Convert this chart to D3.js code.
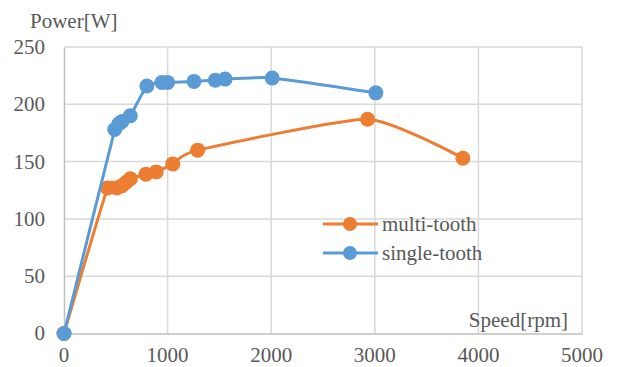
<!DOCTYPE html>
<html>
<head>
<meta charset="utf-8">
<script src="https://cdn.jsdelivr.net/npm/d3@7/dist/d3.min.js"></script>
<style>
  html, body { margin: 0; padding: 0; background: #fff; }
  svg { display: block; }
  text { font-family: "Liberation Serif", "Times New Roman", serif; fill: #595959; font-size: 21px; }
</style>
</head>
<body>
<svg id="chart" width="617" height="367"></svg>
<script>
// ---- data ----
const multiSpeed = [0, 420, 510, 560, 600, 640, 790, 890, 1050, 1290, 2930, 3850];
const multiPower = [0, 127, 127, 129, 132, 135, 139, 141, 148, 160, 187, 153];
const singleSpeed = [0, 490, 530, 560, 640, 800, 945, 1000, 1255, 1460, 1555, 2010, 3010];
const singlePower = [0, 178, 183, 185, 190, 216, 219, 219, 220, 221, 222, 223, 210];
const xTicks = [0, 1000, 2000, 3000, 4000, 5000];
const yTicks = [0, 50, 100, 150, 200, 250];
const seriesNames = ["multi-tooth", "single-tooth"];
const seriesColors = ["#ed7d31", "#5b9bd5"];

const svg = d3.select("#chart");
const x = d3.scaleLinear().domain([0, 5000]).range([64, 582]);
const y = d3.scaleLinear().domain([0, 250]).range([333.5, 47]);

// gridlines
const grid = svg.append("g");
grid.selectAll("line.v").data(xTicks.slice(1)).join("line")
  .attr("x1", d => x(d)).attr("x2", d => x(d))
  .attr("y1", y(0)).attr("y2", y(250))
  .attr("stroke", "#d9d9d9").attr("stroke-width", 1.5);
grid.selectAll("line.h").data(yTicks.slice(1)).join("line")
  .attr("x1", x(0)).attr("x2", x(5000))
  .attr("y1", d => y(d)).attr("y2", d => y(d))
  .attr("stroke", "#d9d9d9").attr("stroke-width", 1.5);

// axes (lines from d3 axes; labels drawn as plain text from the same scales)
const gx = svg.append("g").attr("transform", `translate(0,${y(0)})`)
  .call(d3.axisBottom(x).tickValues(xTicks).tickSize(0).tickFormat(""));
gx.select(".domain").attr("stroke", "#bfbfbf").attr("stroke-width", 1.5);
const gy = svg.append("g").attr("transform", `translate(${x(0)},0)`)
  .call(d3.axisLeft(y).tickValues(yTicks).tickSize(0).tickFormat(""));
gy.select(".domain").attr("stroke", "#bfbfbf").attr("stroke-width", 1.5);

svg.append("g").selectAll("text").data(xTicks).join("text")
  .attr("x", d => x(d)).attr("y", 362).attr("text-anchor", "middle")
  .text(d => String(d));
svg.append("g").selectAll("text").data(yTicks).join("text")
  .attr("x", 45).attr("y", d => y(d)).attr("dy", "0.33em").attr("text-anchor", "end")
  .text(d => String(d));

// axis titles
svg.append("text").attr("x", 30).attr("y", 28).text("Power[W]");
svg.append("text").attr("x", 568).attr("y", 327).attr("text-anchor", "end").text("Speed[rpm]");

// series
const series = [
  d3.zip(multiSpeed, multiPower),
  d3.zip(singleSpeed, singlePower)
];
const line = d3.line().x(d => x(d[0])).y(d => y(d[1])).curve(d3.curveCardinal.tension(0.45));
series.forEach((pts, i) => {
  const g = svg.append("g");
  g.append("path").attr("d", line(pts)).attr("fill", "none")
    .attr("stroke", seriesColors[i]).attr("stroke-width", 3).attr("stroke-linejoin", "round");
  g.selectAll("circle").data(pts).join("circle")
    .attr("cx", d => x(d[0])).attr("cy", d => y(d[1])).attr("r", 7.5)
    .attr("fill", seriesColors[i]);
});

// legend
const legend = svg.append("g");
seriesNames.forEach((name, i) => {
  const ly = 224 + i * 29;
  legend.append("line").attr("x1", 323).attr("x2", 378).attr("y1", ly).attr("y2", ly)
    .attr("stroke", seriesColors[i]).attr("stroke-width", 3);
  legend.append("circle").attr("cx", 350).attr("cy", ly).attr("r", 7).attr("fill", seriesColors[i]);
  legend.append("text").attr("x", 382).attr("y", ly).attr("dy", "0.33em").text(name);
});
</script>
</body>
</html>
